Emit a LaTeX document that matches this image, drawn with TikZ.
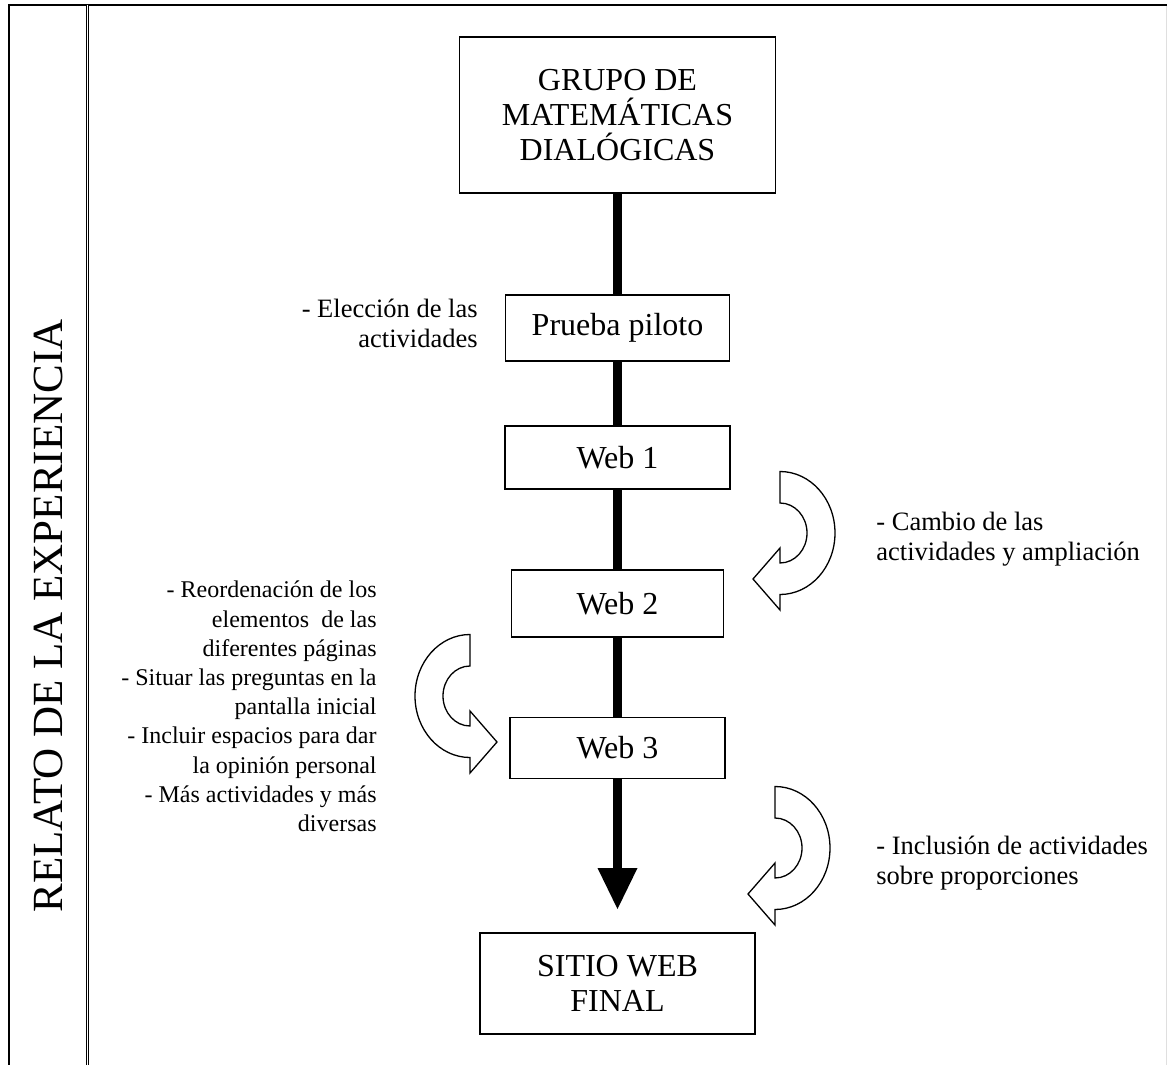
\documentclass[tikz,border=0pt]{standalone}
\usepackage{fontspec}
\setmainfont{Liberation Serif}
\usetikzlibrary{arrows.meta}
\newcommand{\stagefont}{\fontsize{16}{17.5}\selectfont}
\newcommand{\notefont}{\fontsize{13.25}{15.3}\selectfont}
\tikzset{
  stage/.style={draw,line width=0.75pt,fill=white,inner sep=0pt,align=center,font=\stagefont},
  note/.style={inner sep=0pt,font=\notefont},
  spine/.style={line width=4.5pt},
  spinetip/.style={spine,-{Triangle[length=20.5pt,width=20pt,line width=0pt]}},
  turn/.style={draw,line width=0.65pt,fill=white,line join=miter},
  frame/.style={line width=0.65pt},
  turnarrow/.pic={
    \draw[turn] (0,61.5) arc[start angle=90,end angle=-90,x radius=55,y radius=61.5]
      -- (0,-77) -- (-27,-46) -- (0,-15) -- (0,-30)
      arc[start angle=-90,end angle=90,x radius=27,y radius=30] -- cycle;
  }
}

\begin{document}
\begin{tikzpicture}[x=0.5pt,y=0.5pt]
  \useasboundingbox (0,0) rectangle (1167,-1065);
  % frame of the page column
  \draw[frame] (9,-1065) -- (9,-5) -- (1167,-5);
  \draw[line width=0.45pt,double,double distance=0.6pt] (87.5,-5) -- (87.5,-1065);
  \draw[gray!25,line width=0.4pt] (1166,-6) -- (1166,-1065);
  \node[rotate=90,inner sep=0pt,font=\fontsize{21.5}{24}\selectfont] (relato) at (48,-616) {RELATO DE LA EXPERIENCIA};

  \node[stage,minimum width=158pt,minimum height=78pt] (grupo) at (617.5,-115) {GRUPO DE\\MATEMÁTICAS\\DIALÓGICAS};
  \node[stage,minimum width=112pt,minimum height=33pt] (prueba) at (617.5,-328) {Prueba piloto};
  \node[stage,minimum width=112.5pt,minimum height=31.5pt] (web1) at (617.5,-457.5) {Web 1};
  \node[stage,minimum width=106pt,minimum height=33.5pt] (web2) at (617.5,-603.5) {Web 2};
  \node[stage,minimum width=107.5pt,minimum height=30.5pt] (web3) at (617.5,-748) {Web 3};
  \node[stage,minimum width=137.5pt,minimum height=50.5pt] (sitio) at (617.5,-983.5) {SITIO WEB\\FINAL};
  \coordinate (tip) at (617.5,-909);

  \draw[spine] (grupo) -- (prueba);
  \draw[spine] (prueba) -- (web1);
  \draw[spine] (web1) -- (web2);
  \draw[spine] (web2) -- (web3);
  \draw[spinetip] (web3) -- (tip);

  \pic at (780,-533) {turnarrow};
  \pic[xscale=-1] at (470,-696) {turnarrow};
  \pic at (775,-848) {turnarrow};

  \node[note,align=right,anchor=east] (eleccion) at (478,-323.5) {- Elección de las\\actividades};
  \node[note,align=left,anchor=west] (cambio) at (876,-539) {- Cambio de las\\actividades y ampliación};
  \node[note,align=right,anchor=east,font=\fontsize{12}{14.6}\selectfont] (reorden) at (377,-706.5)
    {- Reordenación de los\\elementos\ \ de las\\diferentes páginas\\- Situar las preguntas en la\\pantalla inicial\\- Incluir espacios para dar\\la opinión personal\\- Más actividades y más\\diversas};
  \node[note,align=left,anchor=west] (inclusion) at (876,-863) {- Inclusión de actividades\\sobre proporciones};
\end{tikzpicture}
\end{document}
